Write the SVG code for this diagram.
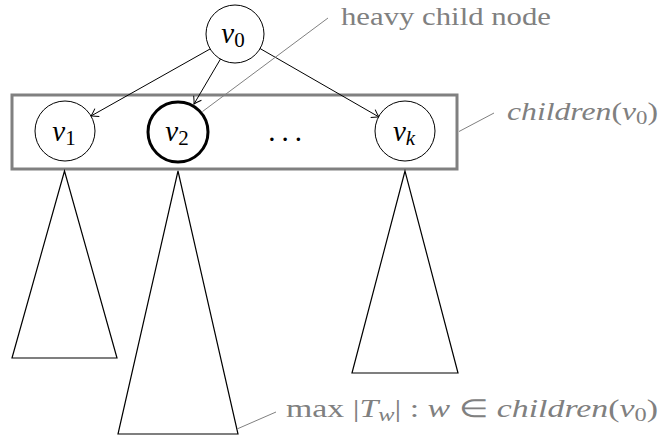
<svg xmlns="http://www.w3.org/2000/svg" width="662" height="438" viewBox="0 0 662 438">
<style>
  .node { fill: #ffffff; stroke: #000000; stroke-width: 1; }
  .heavy { fill: #ffffff; stroke: #000000; stroke-width: 3; }
  .tri { fill: #ffffff; stroke: #000000; stroke-width: 1.2; stroke-linejoin: miter; }
  .box { fill: none; stroke: #808080; stroke-width: 3; }
  .edge { fill: none; stroke: #000000; stroke-width: 1; }
  .note { fill: none; stroke: #808080; stroke-width: 1; }
  text { font-family: "Liberation Serif", "Times New Roman", serif; }
  .lbl { font-size: 29px; fill: #000000; }
  .ann { font-size: 25px; fill: #808080; }
  .it { font-style: italic; }
</style>
<defs>
  <marker id="arr" viewBox="-8 -5 10 10" refX="0" refY="0" markerWidth="10" markerHeight="10" markerUnits="userSpaceOnUse" orient="auto">
    <path d="M -7,-4.5 Q -2.5,-1.2 0,0 Q -2.5,1.2 -7,4.5" fill="none" stroke="#000000" stroke-width="1"/>
  </marker>
</defs>

<g id="children-box">
  <rect class="box" x="12" y="95" width="445" height="74"/>
</g>

<g id="subtree-v1"><polygon class="tri" points="64.5,171 12,358 117,358"/></g>
<g id="subtree-v2"><polygon class="tri" points="178,171 118,434 238,434"/></g>
<g id="subtree-vk"><polygon class="tri" points="405,171 352,373 458,373"/></g>

<g id="connectors">
  <line class="edge" x1="210" y1="49" x2="91" y2="116" marker-end="url(#arr)"/>
  <line class="edge" x1="220.5" y1="59" x2="194" y2="104" marker-end="url(#arr)"/>
  <line class="edge" x1="260" y1="48.5" x2="379" y2="117" marker-end="url(#arr)"/>
  <line class="note" x1="202.5" y1="111.5" x2="328" y2="18"/>
  <line class="note" x1="459" y1="131.5" x2="494" y2="113"/>
  <line class="note" x1="237" y1="429" x2="276" y2="412"/>
</g>

<g id="v0">
  <circle class="node" cx="235" cy="34" r="29"/>
  <text class="lbl" x="233" y="43" text-anchor="middle"><tspan class="it">v</tspan><tspan font-size="21" dy="4">0</tspan></text>
</g>
<g id="v1">
  <circle class="node" cx="65" cy="131" r="30"/>
  <text class="lbl" x="64" y="141" text-anchor="middle"><tspan class="it">v</tspan><tspan font-size="21" dy="4">1</tspan></text>
</g>
<g id="v2">
  <circle class="heavy" cx="178" cy="132" r="30"/>
  <text class="lbl" x="177" y="141" text-anchor="middle"><tspan class="it">v</tspan><tspan font-size="21" dy="4">2</tspan></text>
</g>
<g id="dots">
  <text class="lbl" x="288" y="141" text-anchor="middle" letter-spacing="6">...</text>
</g>
<g id="vk">
  <circle class="node" cx="405" cy="131" r="30"/>
  <text class="lbl" x="404" y="141" text-anchor="middle"><tspan class="it">v</tspan><tspan class="it" font-size="21" dy="4">k</tspan></text>
</g>

<g id="label-heavy">
  <text class="ann" x="341" y="25" textLength="210" lengthAdjust="spacingAndGlyphs">heavy child node</text>
</g>
<g id="label-children">
  <text class="ann" x="507" y="120" textLength="151" lengthAdjust="spacingAndGlyphs"><tspan class="it">children</tspan>(<tspan class="it">v</tspan><tspan font-size="18" dy="4">0</tspan><tspan dy="-4">)</tspan></text>
</g>
<g id="label-max">
  <text class="ann" x="286" y="417" textLength="372" lengthAdjust="spacingAndGlyphs">max |<tspan class="it">T</tspan><tspan class="it" font-size="18" dy="4">w</tspan><tspan dy="-4">| : </tspan><tspan class="it">w</tspan> ∈ <tspan class="it">children</tspan>(<tspan class="it">v</tspan><tspan font-size="18" dy="4">0</tspan><tspan dy="-4">)</tspan></text>
</g>
</svg>
